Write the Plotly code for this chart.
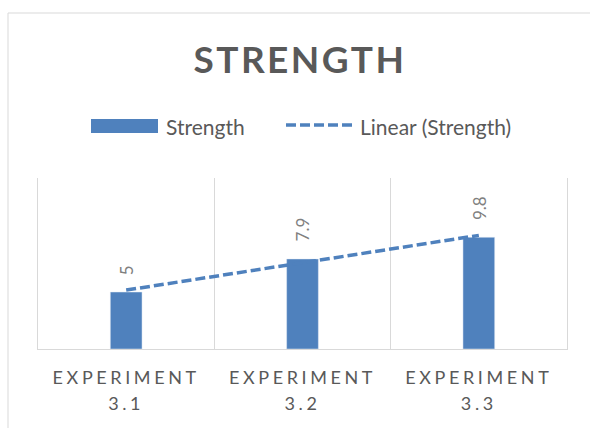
import plotly.graph_objects as go
import numpy as np

# ---- data ----
categories = ["EXPERIMENT<br>3.1", "EXPERIMENT<br>3.2", "EXPERIMENT<br>3.3"]
strength = [5, 7.9, 9.8]
label_text = ["5", "7.9", "9.8"]
title_text = "STRENGTH"
legend_labels = ["Strength", "Linear (Strength)"]

# ---- style ----
FONT = "Lato"
BAR = "#4f81bd"
GRID = "#d9d9d9"
TEXT = "#595959"
LABEL = "#808080"

W, H = 590, 428
L, R, T, B = 38, 23, 178, 79
PW = W - L - R
PH = H - T - B


def px(x):
    return (x - L) / PW


def py(y):
    return (H - B - y) / PH


xs = np.arange(1, len(strength) + 1)
slope, intercept = np.polyfit(xs, strength, 1)
trend = list(slope * xs + intercept)

fig = go.Figure()
fig.add_bar(x=categories, y=strength, marker_color=BAR, width=0.18,
            name=legend_labels[0], showlegend=False)
fig.add_scatter(x=categories, y=trend, mode="lines",
                line=dict(color=BAR, width=3.5, dash="10px,4px"),
                name=legend_labels[1], showlegend=False)

for c, v, t in zip(categories, strength, label_text):
    fig.add_annotation(x=c, y=v, text=t, textangle=-90, showarrow=False,
                       xanchor="center", yanchor="bottom", yshift=15,
                       font=dict(family=FONT, size=17, color=LABEL))

# custom legend
fig.add_shape(type="rect", xref="paper", yref="paper",
              x0=px(91), x1=px(158), y0=py(133), y1=py(119),
              fillcolor=BAR, line=dict(width=0))
fig.add_annotation(xref="paper", yref="paper", x=px(164), y=py(126),
                   text=legend_labels[0], showarrow=False,
                   xanchor="left", yanchor="middle",
                   font=dict(family=FONT, size=21, color=TEXT))
fig.add_shape(type="line", xref="paper", yref="paper",
              x0=px(286), x1=px(355), y0=py(125), y1=py(125),
              line=dict(color=BAR, width=3.5, dash="10px,4px"))
fig.add_annotation(xref="paper", yref="paper", x=px(358), y=py(126),
                   text=legend_labels[1], showarrow=False,
                   xanchor="left", yanchor="middle",
                   font=dict(family=FONT, size=21, color=TEXT))

# chart border
fig.add_shape(type="rect", xref="paper", yref="paper", layer="below",
              x0=px(8), x1=px(800), y0=py(13), y1=py(800),
              line=dict(color=GRID, width=1), fillcolor="rgba(0,0,0,0)")

fig.update_layout(
    width=W, height=H,
    margin=dict(l=L, r=R, t=T, b=B),
    paper_bgcolor="white", plot_bgcolor="white",
    showlegend=False,
    title=dict(text=title_text, x=300 / W, xanchor="center",
               y=1 - 60 / H, yanchor="middle",
               font=dict(family=FONT, size=37, color=TEXT, weight="bold")),
    font=dict(family=FONT, color=TEXT),
)
fig.update_xaxes(type="category", range=[-0.5, 2.5], showgrid=True,
                 gridcolor=GRID, gridwidth=1, tickson="boundaries",
                 showline=True, linecolor=GRID, linewidth=1, ticks="",
                 ticklabelstandoff=12,
                 tickfont=dict(family=FONT, size=18, color=TEXT),
                 zeroline=False, fixedrange=True)
fig.update_yaxes(range=[0, 15], showgrid=False, showticklabels=False,
                 zeroline=False, showline=True, linecolor=GRID, linewidth=1,
                 mirror=True, ticks="", fixedrange=True)

post = """
var gd = document.getElementById('{plot_id}');
gd.querySelectorAll('.xtick text').forEach(function(t){
  t.style.letterSpacing = '3.6px';
  t.querySelectorAll('tspan.line').forEach(function(s){
    var dy = s.getAttribute('dy');
    if (dy && dy !== '0em') { s.setAttribute('dy', '1.45em'); }
  });
});
gd.querySelectorAll('.gtitle').forEach(function(t){ t.style.letterSpacing = '2.4px'; });
"""
fig.write_html("out.html", post_script=post, config={"displayModeBar": False})
